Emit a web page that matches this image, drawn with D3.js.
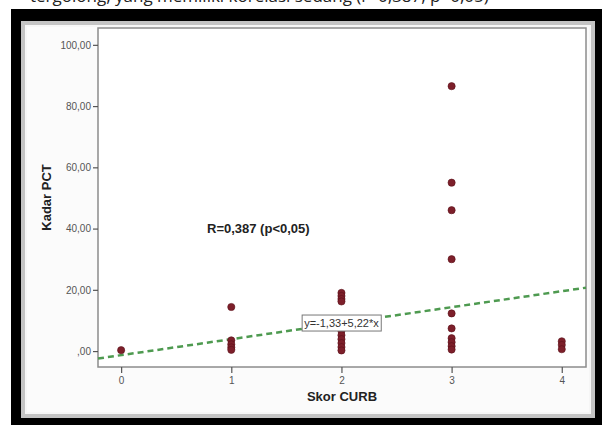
<!DOCTYPE html>
<html lang="id">
<head>
<meta charset="UTF-8">
<title>Skor CURB vs Kadar PCT</title>
<script src="https://d3js.org/d3.v7.min.js"></script>
<style>
  body { margin: 0; background: #fff; }
  svg text { font-family: "Liberation Sans", Arial, sans-serif; }
</style>
</head>
<body>
<div id="chart"></div>

<script>
// Data (skor CURB, kadar PCT)
const skor  = [0, 1, 1, 1, 1, 1, 2, 2, 2, 2, 2, 2, 2, 2, 2, 2,
               3, 3, 3, 3, 3, 3, 3, 3, 3, 3, 4, 4, 4];
const kadar = [0.3, 14.4, 3.5, 2.2, 1.2, 0.4, 19.0, 18.0, 17.0, 16.2, 6.6, 5.2, 3.9, 2.6, 1.3, 0.2,
               86.5, 55.0, 46.0, 30.0, 12.3, 7.4, 4.2, 2.9, 1.6, 0.5, 3.2, 2.0, 0.6];
const xTicks = [0, 1, 2, 3, 4];
const yTicks = [0, 20, 40, 60, 80, 100];
const intercept = -1.33;
const slope = 5.22;
const rLabel = "R=0,387 (p<0,05)";
const eqLabel = "y=-1,33+5,22*x";

const W = 602, H = 425;
const plot = { left: 98, right: 586, top: 28, bottom: 367 };

const svg = d3.select("#chart").append("svg")
  .attr("width", W)
  .attr("height", H);

// caption above the figure, cut by the top edge as in the source
svg.append("text")
  .attr("x", 30)
  .attr("y", 2)
  .style("font-family", "'Open Sans', sans-serif")
  .style("font-size", "17px")
  .attr("fill", "#222")
  .text("tergolong, yang memiliki korelasi sedang (r=0,387, p<0,05)");

// black frame and light panel
svg.append("rect")
  .attr("x", 11).attr("y", 9)
  .attr("width", W - 11).attr("height", H - 9)
  .attr("fill", "#000");

svg.append("rect")
  .attr("x", 23).attr("y", 23)
  .attr("width", 570).attr("height", 393)
  .attr("fill", "#f6f6f6")
  .attr("stroke", "#c4c4c4")
  .attr("stroke-width", 4);

svg.append("rect")
  .attr("x", 27).attr("y", 27)
  .attr("width", 562).attr("height", 385)
  .attr("fill", "#fbfbfb");

// scales
const x = d3.scaleLinear().domain([-0.21, 4.22]).range([plot.left, plot.right]);
const y = d3.scaleLinear().domain([-5.2, 105.5]).range([plot.bottom, plot.top]);

// plot area
svg.append("rect")
  .attr("x", plot.left).attr("y", plot.top)
  .attr("width", plot.right - plot.left)
  .attr("height", plot.bottom - plot.top)
  .attr("fill", "#fff")
  .attr("stroke", "#8c8c8c")
  .attr("stroke-width", 1.5);

// axes
const yAxis = svg.append("g")
  .attr("transform", `translate(${plot.left},0)`)
  .call(d3.axisLeft(y)
    .tickValues(yTicks)
    .tickSize(5)
    .tickPadding(2)
    .tickFormat(d => d === 0 ? ",00" : d.toFixed(2).replace(".", ",")));

const xAxis = svg.append("g")
  .attr("transform", `translate(0,${plot.bottom})`)
  .call(d3.axisBottom(x)
    .tickValues(xTicks)
    .tickSize(6)
    .tickPadding(4)
    .tickFormat(d3.format("d")));

[xAxis, yAxis].forEach(g => {
  g.select(".domain").remove();
  g.selectAll(".tick line").attr("stroke", "#555").attr("stroke-width", 1.2);
  g.selectAll(".tick text")
    .attr("fill", "#555")
    .style("font-size", "10px");
});

// axis titles
svg.append("text")
  .attr("x", (plot.left + plot.right) / 2)
  .attr("y", 401)
  .attr("text-anchor", "middle")
  .style("font-size", "13px")
  .style("font-weight", "bold")
  .attr("fill", "#222")
  .text("Skor CURB");

svg.append("text")
  .attr("transform", "rotate(-90)")
  .attr("x", -(plot.top + plot.bottom) / 2)
  .attr("y", 51)
  .attr("text-anchor", "middle")
  .style("font-size", "13px")
  .style("font-weight", "bold")
  .attr("fill", "#222")
  .text("Kadar PCT");

// regression line
const xd = x.domain();
svg.append("line")
  .attr("x1", x(xd[0])).attr("y1", y(intercept + slope * xd[0]))
  .attr("x2", x(xd[1])).attr("y2", y(intercept + slope * xd[1]))
  .attr("stroke", "#4e9a50")
  .attr("stroke-width", 2.5)
  .attr("stroke-dasharray", "6,4");

// points
svg.append("g")
  .selectAll("circle")
  .data(skor.map((s, i) => ({ s, v: kadar[i] })))
  .enter().append("circle")
  .attr("cx", d => x(d.s))
  .attr("cy", d => y(d.v))
  .attr("r", 3.6)
  .attr("fill", "#7d1f2a")
  .attr("stroke", "#5a1019")
  .attr("stroke-width", 0.6);

// correlation label
svg.append("text")
  .attr("x", 207)
  .attr("y", 233)
  .style("font-size", "13px")
  .style("font-weight", "bold")
  .attr("fill", "#222")
  .text(rLabel);

// equation label on the line
const eq = svg.append("g")
  .attr("transform", `translate(${x(2)},${y(intercept + slope * 2)})`);
const eqText = eq.append("text")
  .attr("text-anchor", "middle")
  .attr("dy", "0.35em")
  .style("font-size", "11px")
  .attr("fill", "#333")
  .text(eqLabel);
const bb = eqText.node().getBBox();
eq.insert("rect", "text")
  .attr("x", bb.x - 2).attr("y", bb.y - 2)
  .attr("width", bb.width + 4).attr("height", bb.height + 4)
  .attr("fill", "#fff")
  .attr("stroke", "#777")
  .attr("stroke-width", 1);
</script>
</body>
</html>
